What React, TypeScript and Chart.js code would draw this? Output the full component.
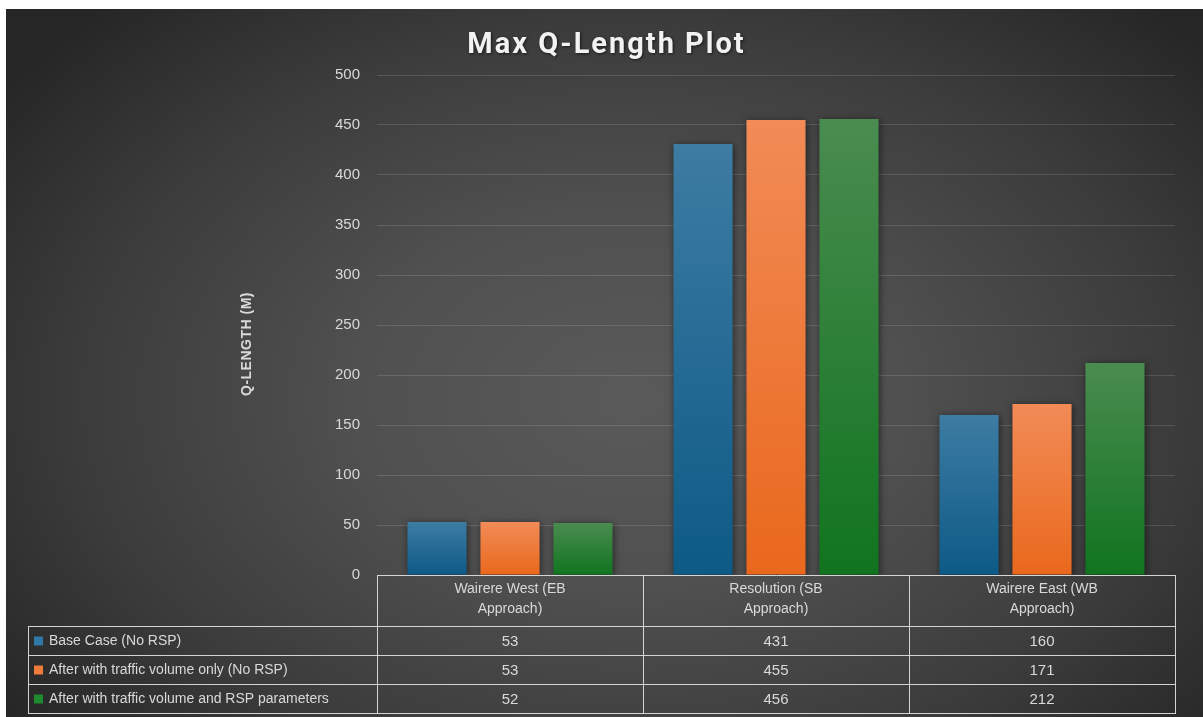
import React, { useEffect, useRef } from "react";
import { Chart, registerables } from "chart.js";

Chart.register(...registerables);

// Category labels, already split into the two lines shown in the table header
const categories: string[][] = [
  ["Wairere West (EB", "Approach)"],
  ["Resolution (SB", "Approach)"],
  ["Wairere East (WB", "Approach)"],
];

const seriesNames: string[] = [
  "Base Case (No RSP)",
  "After with traffic volume only (No RSP)",
  "After with traffic volume and RSP parameters",
];

const baseCase: number[] = [53, 431, 160];
const trafficOnly: number[] = [53, 455, 171];
const trafficAndRsp: number[] = [52, 456, 212];

const yMin = 0;
const yMax = 500;
const yStep = 50;

const chartTitle = "Max Q-Length Plot";
const yAxisTitle = "Q-LENGTH (M)";

// Bar fills: lighter top, deeper base, plus a flat key colour for the table
const seriesLight = ["#3d7ca3", "#f28b57", "#4a8c50"];
const seriesDark = ["#0d5a86", "#e9681c", "#10741f"];
const seriesKey = ["#2f78a8", "#f07a3a", "#208a30"];

const TEXT = "#d9d9d9";
const TABLE_LINE = "rgba(220,220,220,0.95)";
const TABLE_FONT = '14px "Liberation Sans", Arial, sans-serif';
const VALUE_FONT = '15px "Liberation Sans", Arial, sans-serif';

const seriesValues = [baseCase, trafficOnly, trafficAndRsp];

function barGradient(i: number) {
  return (context: any) => {
    const chart = context.chart;
    const area = chart.chartArea;
    if (!area || context.type !== "data") return seriesKey[i];
    const y = chart.scales.y;
    const top = y.getPixelForValue(context.raw);
    const base = y.getPixelForValue(0);
    const g = chart.ctx.createLinearGradient(0, top, 0, base);
    g.addColorStop(0, seriesLight[i]);
    g.addColorStop(1, seriesDark[i]);
    return g;
  };
}

// Soft drop shadow behind the bars
const barShadow = {
  id: "barShadow",
  beforeDatasetsDraw(chart: any) {
    const ctx = chart.ctx;
    ctx.save();
    ctx.shadowColor = "rgba(0,0,0,0.5)";
    ctx.shadowBlur = 7;
    ctx.shadowOffsetX = 1;
    ctx.shadowOffsetY = 1;
  },
  afterDatasetsDraw(chart: any) {
    chart.ctx.restore();
  },
};

// Title, rotated axis title and the data table under the plot
const decorations = {
  id: "decorations",
  afterDraw(chart: any) {
    const { ctx, chartArea, scales } = chart;
    const xs = scales.x;
    const left = chartArea.left;
    const right = chartArea.right;
    const top = chartArea.bottom;
    const headerBottom = top + 51;
    const rowH = 29;
    const tableLeft = 22;
    const bottom = headerBottom + rowH * seriesNames.length;
    const n = categories.length;
    const catW = (right - left) / n;

    ctx.save();

    // main title
    ctx.fillStyle = "#f2f2f2";
    ctx.font = 'bold 29px Roboto, "DejaVu Sans", sans-serif';
    (ctx as any).letterSpacing = "2px";
    ctx.textAlign = "center";
    ctx.textBaseline = "alphabetic";
    ctx.shadowColor = "rgba(0,0,0,0.6)";
    ctx.shadowBlur = 3;
    ctx.shadowOffsetX = 1;
    ctx.shadowOffsetY = 1;
    ctx.fillText(chartTitle, chart.width / 2 + 2, 44);
    ctx.shadowColor = "transparent";
    ctx.shadowBlur = 0;
    ctx.shadowOffsetX = 0;
    ctx.shadowOffsetY = 0;

    // y-axis title
    ctx.save();
    ctx.translate(241, 335);
    ctx.rotate(-Math.PI / 2);
    ctx.font = 'bold 14px "Liberation Sans", Arial, sans-serif';
    (ctx as any).letterSpacing = "0.5px";
    ctx.textAlign = "center";
    ctx.textBaseline = "middle";
    ctx.fillStyle = TEXT;
    ctx.fillText(yAxisTitle, 0, 0);
    ctx.restore();
    (ctx as any).letterSpacing = "0px";

    // table grid
    ctx.strokeStyle = TABLE_LINE;
    ctx.lineWidth = 1;
    const hline = (y: number, x0: number, x1: number) => {
      ctx.beginPath();
      ctx.moveTo(x0, Math.round(y) + 0.5);
      ctx.lineTo(x1, Math.round(y) + 0.5);
      ctx.stroke();
    };
    const vline = (x: number, y0: number, y1: number) => {
      ctx.beginPath();
      ctx.moveTo(Math.round(x) + 0.5, y0);
      ctx.lineTo(Math.round(x) + 0.5, y1);
      ctx.stroke();
    };
    hline(top, left, right + 1);
    for (let r = 0; r <= seriesNames.length; r++) {
      hline(headerBottom + rowH * r, tableLeft, right + 1);
    }
    vline(tableLeft, headerBottom, bottom + 1);
    for (let c = 0; c <= n; c++) {
      vline(left + catW * c, top, bottom + 1);
    }

    // header labels
    ctx.fillStyle = TEXT;
    ctx.font = TABLE_FONT;
    ctx.textAlign = "center";
    ctx.textBaseline = "middle";
    categories.forEach((lines, i) => {
      const cx = xs.getPixelForValue(i);
      lines.forEach((line, j) => {
        ctx.fillText(line, cx, top + 14 + j * 20);
      });
    });

    // rows: legend key, series name, values
    seriesNames.forEach((name, r) => {
      const cy = headerBottom + rowH * r + rowH / 2 + 1;
      ctx.fillStyle = seriesKey[r];
      ctx.fillRect(tableLeft + 6, cy - 5, 9, 9);
      ctx.fillStyle = TEXT;
      ctx.font = TABLE_FONT;
      ctx.textAlign = "left";
      ctx.fillText(name, tableLeft + 21, cy);
      ctx.font = VALUE_FONT;
      ctx.textAlign = "center";
      seriesValues[r].forEach((v, i) => {
        ctx.fillText(String(v), xs.getPixelForValue(i), cy);
      });
    });

    ctx.restore();
  },
};

export default function App() {
  const canvasRef = useRef<HTMLCanvasElement | null>(null);

  useEffect(() => {
    const canvas = canvasRef.current;
    if (!canvas) return;
    const chart = new Chart(canvas, {
      type: "bar",
      data: {
        labels: categories,
        datasets: seriesNames.map((name, i) => ({
          label: name,
          data: seriesValues[i],
          backgroundColor: barGradient(i),
          borderWidth: 0,
          barPercentage: 0.81,
          categoryPercentage: 0.823,
        })),
      },
      options: {
        animation: false,
        responsive: true,
        maintainAspectRatio: false,
        events: [],
        layout: { padding: { top: 66, bottom: 142, left: 0, right: 28 } },
        plugins: {
          legend: { display: false },
          title: { display: false },
          tooltip: { enabled: false },
        },
        scales: {
          x: { display: false },
          y: {
            min: yMin,
            max: yMax,
            border: { display: false },
            grid: { color: "rgba(255,255,255,0.13)", lineWidth: 1, drawTicks: false },
            ticks: {
              stepSize: yStep,
              color: TEXT,
              padding: 17,
              font: { family: '"Liberation Sans", Arial, sans-serif', size: 15 },
            },
            afterFit(scale: any) {
              scale.width = 371;
            },
          },
        },
      },
      plugins: [barShadow, decorations],
    });
    return () => chart.destroy();
  }, []);

  return (
    <div
      style={{
        position: "absolute",
        left: 6,
        top: 9,
        width: 1197,
        height: 708,
        background:
          "radial-gradient(ellipse 65% 75% at 52% 55%, #5a5a5a 0%, #505050 35%, #3c3c3c 70%, #262626 100%)",
      }}
    >
      <canvas ref={canvasRef} />
    </div>
  );
}
